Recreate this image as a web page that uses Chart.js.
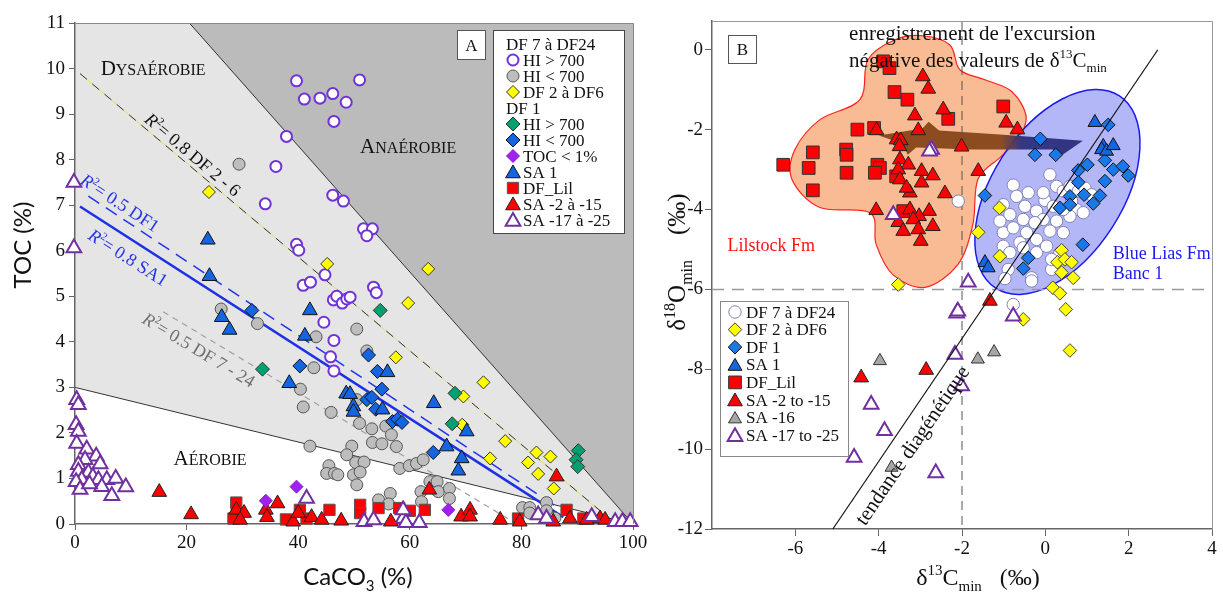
<!DOCTYPE html>
<html>
<head>
<meta charset="utf-8">
<script src="https://cdn.jsdelivr.net/npm/chart.js@4/dist/chart.umd.min.js"></script>
<style>
  html, body { margin: 0; padding: 0; background: #fff; }
  #wrap { position: relative; width: 1223px; height: 595px; }
  #left { position: absolute; left: 0; top: 0; }
  #right { position: absolute; left: 650px; top: 0; }
</style>
</head>
<body>
<div id="wrap">
  <canvas id="left" width="650" height="595"></canvas>
  <canvas id="right" width="573" height="595"></canvas>
</div>
<script>
// ---------- panel A : CaCO3 (%) vs TOC (%) ----------
const leftXTicks = [0, 20, 40, 60, 80, 100];
const leftYTicks = [0, 1, 2, 3, 4, 5, 6, 7, 8, 9, 10, 11];

const df724HiHigh = [[39.7,9.73],[51.0,9.75],[41.1,9.33],[43.9,9.35],[46.2,9.45],[48.6,9.26],[46.4,8.84],[37.9,8.51],[36.0,7.85],[34.1,7.03],[46.2,7.22],[48.1,7.09],[51.7,6.48],[53.3,6.48],[52.3,6.33],[39.7,6.14],[40.1,6.01],[44.8,5.47],[40.9,5.24],[42.2,5.31],[53.5,5.20],[54.0,5.08],[46.3,4.92],[46.9,5.0],[47.9,4.85],[48.7,4.94],[49.3,4.98],[44.6,4.43],[46.4,4.03],[45.8,3.67],[46.4,3.36]];
const df724HiLow = [[29.4,7.9],[26.2,4.72],[32.7,4.40],[43.2,4.11],[50.5,4.28],[52.3,3.80],[42.8,3.43],[40.4,2.96],[40.9,2.57],[45.9,2.45],[50.5,2.73],[51.0,2.21],[53.2,2.09],[55.7,2.15],[56.7,1.96],[53.3,1.79],[55.0,1.76],[57.6,1.70],[42.1,1.71],[49.6,1.71],[48.7,1.52],[50.3,1.35],[51.8,1.36],[45.5,1.28],[45.1,1.11],[46.5,1.11],[47.1,1.08],[49.9,1.08],[51.1,1.14],[50.5,0.86],[58.2,1.22],[59.9,1.28],[61.2,1.33],[62.4,1.41],[54.4,0.53],[56.5,0.67],[56.2,0.44],[62.0,0.71],[62.1,0.49],[63.6,0.93],[64.9,0.93],[65.1,0.71],[67.1,0.78],[67.1,0.56],[80.2,0.36],[81.5,0.36],[81.5,0.24],[84.5,0.47],[84.5,0.29],[86.0,0.13]];
const df26 = [[24.0,7.29],[45.2,5.71],[59.7,4.85],[63.3,5.60],[57.5,3.66],[73.2,3.11],[69.6,2.80],[69.4,2.18],[77.1,1.82],[74.4,1.44],[82.7,1.57],[81.2,1.35],[85.2,1.48],[83.0,1.10],[85.8,0.78]];
const df1HiHigh = [[33.6,3.40],[54.7,4.69],[68.1,2.87],[67.6,2.20],[90.2,1.61],[89.8,1.41],[90.1,1.26]];
const df1HiLow = [[31.7,4.69],[40.3,3.47],[52.6,3.71],[54.2,3.35],[55.0,2.96],[52.3,2.73],[53.2,2.78],[53.9,2.52],[56.9,2.25],[57.8,2.30],[58.6,2.23],[64.2,1.57]];
const df1LowToc = [[34.2,0.51],[39.7,0.82],[66.9,0.31]];
const sa1 = [[23.8,6.24],[24.1,5.44],[26.3,4.54],[27.7,4.26],[42.1,4.69],[41.2,4.13],[38.4,3.09],[48.6,2.86],[49.3,2.85],[49.9,2.58],[49.9,2.46],[55.1,2.51],[56.0,3.33],[64.3,2.65],[70.2,2.03],[66.6,1.70],[69.3,1.44],[68.7,1.17]];
const dfLil = [[28.9,0.47],[29.0,0.24],[37.8,0.10],[40.3,0.31],[45.6,0.31],[28.4,0.12],[41.5,0.12],[51.1,0.42],[51.1,0.24],[54.4,0.35],[58.1,0.35],[60.0,0.29],[62.7,0.31],[88.1,0.31],[79.4,0.12],[91.1,0.12]];
const saRed = [[15.1,0.70],[20.8,0.21],[28.9,0.31],[30.3,0.24],[29.6,0.09],[34.2,0.31],[34.4,0.15],[36.3,0.45],[39.1,0.05],[40.0,0.24],[42.4,0.15],[44.2,0.09],[47.7,0.07],[56.6,0.05],[63.5,0.75],[69.2,0.16],[70.8,0.31],[70.8,0.16],[76.2,0.09],[79.7,0.05],[86.3,1.04],[88.7,0.12],[85.7,0.05],[91.7,0.09],[94.1,0.12],[95.0,0.09]];
const saOpen = [[0.3,2.73],[0.6,2.62],[0.2,2.18],[0.6,2.03],[0.3,1.77],[2.1,1.64],[3.8,1.49],[1.8,1.41],[4.5,1.32],[0.6,1.30],[0.6,1.15],[2.4,1.13],[3.2,1.04],[1.2,0.97],[4.2,0.97],[5.7,0.97],[7.3,1.00],[0.2,0.93],[4.8,0.82],[9.1,0.81],[6.6,0.62],[0.9,0.76],[2.6,0.88],[41.5,0.56],[-0.2,7.5],[-0.2,6.06],[51.8,0.05],[53.5,0.09],[58.8,0.12],[59.3,0.03],[61.7,0.03],[58.8,0.31],[83.0,0.20],[84.5,0.12],[92.6,0.16],[96.8,0.05],[98.1,0.05],[99.5,0.05]];

// regression lines and oxygenation limits, in (CaCO3, TOC)
const fitDf26 = [[0.9, 9.89], [95, 0.2]];
const fitDf1 = [[2.4, 7.2], [88, 0.24]];
const fitSa1 = [[0.9, 6.97], [87.5, 0.15]];
const fitDf724 = [[15.8, 4.66], [78.5, 0.05]];
const anoxicLimit = [[20.5, 11], [100, 0]];
const oxicLimit = [[0, 3], [100, 0]];

// ---------- panel B : d13C vs d18O ----------
const rightXTicks = [-6, -4, -2, 0, 2, 4];
const rightYTicks = [-12, -10, -8, -6, -4, -2, 0];

const bDf724 = [[0.11,-3.13],[-0.77,-3.39],[-0.41,-3.58],[-0.01,-3.77],[0.27,-3.42],[0.43,-3.54],[0.59,-3.42],[0.79,-3.54],[0.95,-3.46],[1.11,-3.63],[-1.01,-3.88],[-0.49,-3.92],[-0.21,-4.04],[0.19,-3.92],[-0.05,-4.25],[0.27,-4.29],[-0.85,-4.13],[-0.53,-4.25],[-0.25,-4.33],[0.75,-4.0],[0.59,-4.17],[0.91,-4.08],[0.43,-4.58],[0.11,-4.54],[-1.01,-4.58],[-0.77,-4.46],[-0.45,-4.58],[-0.21,-4.75],[-0.61,-4.83],[-1.01,-4.92],[-0.85,-5.08],[-0.21,-5.08],[-0.53,-4.96],[-0.89,-5.5],[-0.33,-5.71],[-0.97,-5.73],[0.15,-5.5],[0.35,-5.08],[-2.09,-3.79],[-0.77,-6.38],[0.03,-4.92],[-1.09,-4.29],[-0.69,-3.67],[-0.05,-3.58],[0.63,-3.79],[0.43,-4.0],[0.15,-5.25],[-0.33,-5.79]];
const bDf26 = [[-1.10,-3.96],[-1.61,-4.57],[-1.09,-5.17],[0.39,-5.02],[0.29,-5.32],[0.47,-5.25],[0.63,-5.32],[0.39,-5.58],[0.67,-5.71],[0.18,-5.96],[0.35,-6.1],[0.49,-6.5],[-0.53,-6.75],[-3.53,-5.88],[0.59,-7.53]];
const bDf1 = [[1.51,-1.88],[-0.12,-2.23],[-0.25,-2.63],[0.25,-2.63],[1.43,-2.77],[1.63,-3.0],[1.86,-2.92],[1.99,-3.15],[1.01,-2.88],[0.79,-3.02],[0.79,-3.32],[1.43,-3.29],[0.59,-3.67],[0.93,-3.63],[1.31,-3.65],[1.15,-3.85],[0.35,-3.96],[0.59,-3.88],[-1.45,-3.65],[0.90,-4.88],[-0.41,-5.21],[-0.53,-5.48]];
const bSa1 = [[1.19,-1.82],[1.39,-2.42],[1.35,-2.5],[1.47,-2.54],[1.63,-2.4],[-1.45,-5.33],[-1.37,-5.46]];
const bDfLil = [[-3.89,-0.29],[-3.74,-0.46],[-3.62,-1.06],[-3.31,-1.25],[-1.01,-1.42],[-2.33,-1.73],[-4.51,-2.0],[-4.11,-1.96],[-5.58,-2.57],[-4.78,-2.5],[-4.77,-2.63],[-6.29,-2.88],[-5.68,-2.96],[-4.77,-3.08],[-5.58,-3.52],[-4.03,-2.88],[-3.97,-2.96],[-4.09,-3.08],[-3.58,-3.17],[-3.41,-4.04]];
const bSaRed = [[-2.94,-0.67],[-2.81,-0.98],[-2.45,-1.5],[-3.13,-1.65],[-3.05,-2.02],[-0.94,-1.83],[-0.67,-2.0],[-4.05,-2.02],[-3.57,-2.25],[-3.47,-2.27],[-3.50,-2.42],[-2.01,-2.43],[-1.61,-3.04],[-3.49,-2.75],[-3.29,-2.88],[-3.53,-3.0],[-2.97,-3.04],[-2.70,-3.15],[-3.49,-3.25],[-2.97,-3.33],[-3.25,-3.58],[-3.33,-3.46],[-2.41,-3.6],[-4.06,-4.02],[-3.25,-4.0],[-2.79,-4.04],[-3.03,-4.17],[-3.53,-4.32],[-3.17,-4.25],[-3.41,-4.54],[-3.05,-4.5],[-2.70,-4.42],[-2.99,-4.79],[-1.33,-6.29],[-4.42,-8.21],[-2.86,-8.02]];
const bSa16 = [[-3.97,-7.79],[-3.69,-10.46],[-1.62,-7.75],[-1.23,-7.57]];
const bSaOpen = [[-2.73,-2.5],[-2.78,-2.54],[-1.85,-5.82],[-2.13,-6.6],[-2.1,-6.55],[-3.65,-4.13],[-2.17,-7.63],[-2.01,-8.42],[-2.63,-10.6],[-4.18,-8.88],[-3.86,-9.54],[-4.59,-10.21],[-0.77,-6.67]];

const diagTrend = [[-5.1, -12], [2.7, 0]];
const lilstockOutline = [[-2.94,0.35],[-2.29,0.12],[-2.05,-0.5],[-1.45,-0.75],[-0.8,-1.05],[-0.46,-1.68],[-0.66,-2.25],[-1.09,-2.7],[-1.62,-3.25],[-1.74,-4.38],[-2.1,-5.38],[-2.89,-5.95],[-3.66,-5.63],[-4.06,-4.88],[-4.21,-4.08],[-5.41,-3.95],[-6.08,-3.25],[-6.01,-2.5],[-5.41,-1.75],[-4.45,-1.25],[-4.26,-0.25],[-3.61,0.25]];
const blueLiasCenter = [0.29, -3.56];
const blueLiasMajorTip = [1.77, -1.15];
const blueLiasMinorTip = [1.61, -4.44];
const shiftArrow = [[-4.0,-2.15],[-2.95,-1.97],[-2.8,-1.8],[-2.55,-2.02],[-1.0,-2.13],[0.9,-2.28],[0.25,-2.75],[0.18,-2.5],[-1.8,-2.5],[-3.1,-2.45],[-3.3,-2.63],[-3.45,-2.34]];

// ---------- helpers ----------
const SERIF = '"Liberation Serif", "DejaVu Serif", serif';
const SANS = 'Lato, "Liberation Sans", sans-serif';
const P = arr => arr.map(([x, y]) => ({ x, y }));

function toPx(chart, p) {
  return [chart.scales.x.getPixelForValue(p[0]), chart.scales.y.getPixelForValue(p[1])];
}

// parts: [text, kind]; kind '' | 'sup' | 'sub' | 'it' | 'sc'
function richText(ctx, parts, x, y, opt) {
  const size = opt.size;
  const sizeOf = k => (k === 'sup' || k === 'sub') ? Math.round(size * 0.62) : (k === 'sc' ? Math.round(size * 0.78) : size);
  const fontOf = k => (k === 'it' ? 'italic ' : '') + sizeOf(k) + 'px ' + (opt.family || SERIF);
  let w = 0;
  parts.forEach(([t, k]) => { ctx.font = fontOf(k); w += ctx.measureText(t).width; });
  let cx = opt.align === 'left' ? x : x - w / 2;
  ctx.textAlign = 'left';
  ctx.textBaseline = 'alphabetic';
  ctx.fillStyle = opt.color || '#111';
  const base = y + size * 0.33;
  parts.forEach(([t, k]) => {
    ctx.font = fontOf(k);
    const dy = k === 'sup' ? -size * 0.4 : (k === 'sub' ? size * 0.25 : 0);
    ctx.fillText(t, cx, base + dy);
    cx += ctx.measureText(t).width;
  });
}

function rotatedText(ctx, parts, x, y, angle, opt) {
  ctx.save();
  ctx.translate(x, y);
  ctx.rotate(angle);
  richText(ctx, parts, 0, 0, opt);
  ctx.restore();
}

function strokeSegment(ctx, chart, seg) {
  const a = toPx(chart, seg[0]), b = toPx(chart, seg[1]);
  ctx.beginPath(); ctx.moveTo(a[0], a[1]); ctx.lineTo(b[0], b[1]); ctx.stroke();
}

function segAngle(chart, seg) {
  const a = toPx(chart, seg[0]), b = toPx(chart, seg[1]);
  return Math.atan2(b[1] - a[1], b[0] - a[0]);
}

function marker(ctx, ds, x, y) {
  ctx.save();
  ctx.fillStyle = ds.backgroundColor;
  ctx.strokeStyle = ds.borderColor;
  ctx.lineWidth = ds.borderWidth;
  Chart.helpers.drawPoint(ctx, { pointStyle: ds.pointStyle, radius: ds.pointRadius, borderWidth: ds.borderWidth, rotation: 0 }, x, y);
  ctx.restore();
}

function smoothClosedPath(ctx, pts) {
  const n = pts.length;
  ctx.beginPath();
  ctx.moveTo(pts[0][0], pts[0][1]);
  for (let i = 0; i < n; i++) {
    const p0 = pts[(i - 1 + n) % n], p1 = pts[i], p2 = pts[(i + 1) % n], p3 = pts[(i + 2) % n];
    ctx.bezierCurveTo(p1[0] + (p2[0] - p0[0]) / 6, p1[1] + (p2[1] - p0[1]) / 6,
                      p2[0] - (p3[0] - p1[0]) / 6, p2[1] - (p3[1] - p1[1]) / 6, p2[0], p2[1]);
  }
  ctx.closePath();
}

function scatterSet(label, data, style, radius, fill, border, bw, order) {
  return { label, data: P(data), pointStyle: style, pointRadius: radius, pointHoverRadius: radius,
    backgroundColor: fill, borderColor: border, borderWidth: bw, order, clip: false };
}

function lineSet(label, seg, color, width, dash, order) {
  return { label, data: P(seg), showLine: true, borderColor: color, borderWidth: width,
    borderDash: dash, pointRadius: 0, backgroundColor: color, order, clip: false };
}

function axisOpts(min, max, tickList, tickLen, pad, size, fit) {
  return {
    type: 'linear', min, max,
    afterBuildTicks: s => { s.ticks = tickList.map(v => ({ value: v })); },
    afterFit: fit,
    grid: { drawOnChartArea: false, drawTicks: true, tickLength: tickLen, tickColor: '#666' },
    border: { display: true, color: '#666', width: 1.5 },
    ticks: { padding: pad, color: '#111', font: { family: SERIF, size }, callback: v => String(v) }
  };
}

// ---------- panel A ----------
const PURPLE = '#7033d8';
const leftSets = [
  scatterSet('HI > 700', df724HiHigh, 'circle', 5.5, '#ffffff', PURPLE, 2, 11),
  scatterSet('HI < 700', df724HiLow, 'circle', 6, '#bdbdbd', '#555555', 1, 12),
  scatterSet('DF 2 à DF6', df26, 'rectRot', 6.5, '#ffff00', '#333333', 1, 8),
  scatterSet('DF 1 HI > 700', df1HiHigh, 'rectRot', 7, '#00a070', '#333333', 1, 7),
  scatterSet('DF 1 HI < 700', df1HiLow, 'rectRot', 7, '#1565e0', '#111111', 1, 6),
  scatterSet('TOC < 1%', df1LowToc, 'rectRot', 6.5, '#a020f0', '#8a1ad0', 1, 5),
  scatterSet('SA 1', sa1, 'triangle', 8.5, '#1565e0', '#111111', 1, 4),
  scatterSet('DF_Lil', dfLil, 'rect', 8, '#ff0000', '#555555', 1, 10),
  scatterSet('SA -2 à -15', saRed, 'triangle', 8.5, '#ff0000', '#222222', 1, 9),
  scatterSet('SA -17 à -25', saOpen, 'triangle', 8.5, '#ffffff', '#7030a0', 2, 3),
  lineSet('fit DF 2-6 (jaune)', fitDf26, '#e6df70', 1, [], 31),
  lineSet('R² = 0.8 DF 2 - 6', fitDf26, '#333333', 1, [9, 7], 30),
  lineSet('R² = 0.5 DF1', fitDf1, '#2233ee', 1.5, [13, 8], 30),
  lineSet('R² = 0.8 SA1', fitSa1, '#1c30e6', 2.5, [], 30),
  lineSet('R² = 0.5 DF 7 - 24', fitDf724, '#a0a0a0', 1.2, [6, 5], 30)
];

const leftLegendRows = [
  { text: 'DF 7 à DF24' }, { text: 'HI > 700', ds: 0 }, { text: 'HI < 700', ds: 1 }, { text: 'DF 2 à DF6', ds: 2 },
  { text: 'DF 1' }, { text: 'HI > 700', ds: 3 }, { text: 'HI < 700', ds: 4 }, { text: 'TOC < 1%', ds: 5 },
  { text: 'SA 1', ds: 6 }, { text: 'DF_Lil', ds: 7 }, { text: 'SA -2 à -15', ds: 8 }, { text: 'SA -17 à -25', ds: 9 }
];

const leftDecor = {
  id: 'leftDecor',
  beforeDraw(chart) {
    const ctx = chart.ctx, a = chart.chartArea;
    ctx.save();
    ctx.fillStyle = '#e5e5e5';
    ctx.fillRect(a.left, a.top, a.right - a.left, a.bottom - a.top);
    // oxic field (white) below the lower limit
    const o1 = toPx(chart, oxicLimit[0]), o2 = toPx(chart, oxicLimit[1]);
    ctx.fillStyle = '#ffffff';
    ctx.beginPath(); ctx.moveTo(o1[0], o1[1]); ctx.lineTo(o2[0], o2[1]); ctx.lineTo(a.left, a.bottom); ctx.closePath(); ctx.fill();
    // anoxic field (dark) above the upper limit
    const n1 = toPx(chart, anoxicLimit[0]), n2 = toPx(chart, anoxicLimit[1]);
    ctx.fillStyle = '#bbbbbb';
    ctx.beginPath(); ctx.moveTo(n1[0], n1[1]); ctx.lineTo(a.right, a.top); ctx.lineTo(n2[0], n2[1]); ctx.closePath(); ctx.fill();
    ctx.strokeStyle = '#333'; ctx.lineWidth = 1;
    strokeSegment(ctx, chart, oxicLimit);
    strokeSegment(ctx, chart, anoxicLimit);
    ctx.restore();
  },
  beforeDatasetsDraw(chart) {
    const ctx = chart.ctx;
    ctx.save();
    // field names (small caps)
    let p = toPx(chart, [14.0, 10.0]);
    richText(ctx, [['D', ''], ['YSAÉROBIE', 'sc']], p[0], p[1], { size: 21, color: '#111' });
    p = toPx(chart, [59.7, 8.29]);
    richText(ctx, [['A', ''], ['NAÉROBIE', 'sc']], p[0], p[1], { size: 21, color: '#111' });
    p = toPx(chart, [24.2, 1.45]);
    richText(ctx, [['A', ''], ['ÉROBIE', 'sc']], p[0], p[1], { size: 21, color: '#111' });
    // regression labels
    p = toPx(chart, [21.1, 8.11]);
    rotatedText(ctx, [['R', 'it'], ['2', 'sup'], ['= 0.8 DF 2 - 6', '']], p[0], p[1], segAngle(chart, fitDf26), { size: 18, color: '#111' });
    p = toPx(chart, [8.06, 7.05]);
    rotatedText(ctx, [['R', 'it'], ['2', 'sup'], ['= 0.5 DF1', '']], p[0], p[1], segAngle(chart, fitDf1), { size: 18, color: '#2233ee' });
    p = toPx(chart, [9.5, 5.85]);
    rotatedText(ctx, [['R', 'it'], ['2', 'sup'], ['= 0.8 SA1', '']], p[0], p[1], segAngle(chart, fitSa1), { size: 18, color: '#2233ee' });
    p = toPx(chart, [22.2, 3.82]);
    rotatedText(ctx, [['R', 'it'], ['2', 'sup'], ['= 0.5 DF 7 - 24', '']], p[0], p[1], segAngle(chart, fitDf724), { size: 18, color: '#707070' });
    ctx.restore();
  },
  afterDraw(chart) {
    const ctx = chart.ctx, a = chart.chartArea;
    ctx.save();
    ctx.strokeStyle = '#888'; ctx.lineWidth = 1;
    ctx.beginPath(); ctx.moveTo(a.left, a.top + 0.5); ctx.lineTo(a.right + 0.5, a.top + 0.5); ctx.lineTo(a.right + 0.5, a.bottom); ctx.stroke();
    // panel letter
    ctx.fillStyle = '#fff'; ctx.strokeStyle = '#555';
    ctx.fillRect(457.5, 30.5, 28, 29); ctx.strokeRect(457.5, 30.5, 28, 29);
    richText(ctx, [['A', '']], 471.5, 45, { size: 17 });
    // legend
    ctx.fillStyle = '#fff'; ctx.strokeStyle = '#444';
    ctx.fillRect(493.5, 30.5, 131, 203); ctx.strokeRect(493.5, 30.5, 131, 203);
    leftLegendRows.forEach((row, i) => {
      const y = 44 + i * 16;
      if (row.ds === undefined) {
        richText(ctx, [[row.text, '']], 506, y, { size: 17, align: 'left' });
      } else {
        const ds = chart.data.datasets[row.ds];
        marker(ctx, ds, 513, y + (ds.pointStyle === 'triangle' ? 1.5 : 0));
        richText(ctx, [[row.text, '']], 523, y, { size: 17, align: 'left' });
      }
    });
    // axis titles
    richText(ctx, [['CaCO', ''], ['3', 'sub'], [' (%)', '']], 358, 577, { size: 24, family: SANS });
    rotatedText(ctx, [['TOC (%)', '']], 23, 245, -Math.PI / 2, { size: 24, family: SANS });
    ctx.restore();
  }
};

new Chart(document.getElementById('left'), {
  type: 'scatter',
  data: { datasets: leftSets },
  options: {
    responsive: false,
    animation: false,
    layout: { padding: { top: 23, right: 17, left: 0, bottom: 0 } },
    plugins: { legend: { display: false }, tooltip: { enabled: false } },
    scales: {
      x: axisOpts(0, 100, leftXTicks, 6, 2, 19, s => { s.height = 71; }),
      y: axisOpts(0, 11, leftYTicks, 6, 4, 19, s => { s.width = 75; })
    }
  },
  plugins: [leftDecor]
});

// ---------- panel B ----------
const rightSets = [
  scatterSet('DF 7 à DF24', bDf724, 'circle', 6.2, '#ffffff', '#8080bb', 1, 12),
  scatterSet('DF 2 à DF6', bDf26, 'rectRot', 6.8, '#ffff00', '#444444', 1, 11),
  scatterSet('DF 1', bDf1, 'rectRot', 6.8, '#1a78e8', '#111111', 1, 10),
  scatterSet('SA 1', bSa1, 'triangle', 8, '#1565e0', '#111111', 1, 9),
  scatterSet('DF_Lil', bDfLil, 'rect', 9, '#ff0000', '#333333', 1, 8),
  scatterSet('SA -2 to -15', bSaRed, 'triangle', 8.5, '#ff0000', '#222222', 1, 7),
  scatterSet('SA -16', bSa16, 'triangle', 7.5, '#a6a6a6', '#333333', 1, 6),
  scatterSet('SA -17 to -25', bSaOpen, 'triangle', 8.5, '#ffffff', '#7030a0', 2, 5)
];

const rightDecor = {
  id: 'rightDecor',
  beforeDatasetsDraw(chart) {
    const ctx = chart.ctx, a = chart.chartArea, xs = chart.scales.x, ys = chart.scales.y;
    ctx.save();
    // Lilstock field
    smoothClosedPath(ctx, lilstockOutline.map(p => toPx(chart, p)));
    ctx.fillStyle = '#f8bb93'; ctx.fill();
    ctx.strokeStyle = '#ff2020'; ctx.lineWidth = 1.2; ctx.stroke();
    // Blue Lias field
    const c = toPx(chart, blueLiasCenter), m = toPx(chart, blueLiasMajorTip), n = toPx(chart, blueLiasMinorTip);
    const ra = Math.hypot(m[0] - c[0], m[1] - c[1]), rb = Math.hypot(n[0] - c[0], n[1] - c[1]);
    ctx.beginPath();
    ctx.ellipse(c[0], c[1], ra, rb, Math.atan2(m[1] - c[1], m[0] - c[0]), 0, Math.PI * 2);
    ctx.fillStyle = 'rgba(150,155,245,0.72)'; ctx.fill();
    ctx.strokeStyle = '#1a1af0'; ctx.lineWidth = 1.5; ctx.stroke();
    // excursion arrow
    const ap = shiftArrow.map(p => toPx(chart, p));
    const g = ctx.createLinearGradient(ap[0][0], 0, ap[5][0], 0);
    g.addColorStop(0, 'rgba(135,70,25,0.95)');
    g.addColorStop(0.6, 'rgba(135,70,25,0.95)');
    g.addColorStop(0.7, 'rgba(45,48,125,0.95)');
    g.addColorStop(1, 'rgba(40,45,125,0.95)');
    ctx.beginPath();
    ap.forEach((p, i) => i ? ctx.lineTo(p[0], p[1]) : ctx.moveTo(p[0], p[1]));
    ctx.closePath();
    ctx.fillStyle = g; ctx.fill();
    // -2 and -6 reference lines
    ctx.setLineDash([9, 6]); ctx.strokeStyle = '#555'; ctx.lineWidth = 1;
    const vx = xs.getPixelForValue(-2);
    ctx.beginPath(); ctx.moveTo(vx, a.top); ctx.lineTo(vx, a.bottom); ctx.stroke();
    ctx.setLineDash([12, 8]); ctx.strokeStyle = '#9a9a9a'; ctx.lineWidth = 1.5;
    const hy = ys.getPixelForValue(-6);
    ctx.beginPath(); ctx.moveTo(a.left, hy); ctx.lineTo(a.right, hy); ctx.stroke();
    ctx.restore();
  },
  afterDatasetsDraw(chart) {
    const ctx = chart.ctx;
    ctx.save();
    ctx.strokeStyle = '#111'; ctx.lineWidth = 1.2;
    strokeSegment(ctx, chart, diagTrend);
    let p = toPx(chart, [-3.2, -9.9]);
    rotatedText(ctx, [['tendance diagénétique', '']], p[0], p[1], segAngle(chart, diagTrend), { size: 21, color: '#111' });
    p = toPx(chart, [-4.71, 0.42]);
    richText(ctx, [["enregistrement de l'excursion", '']], p[0], p[1], { size: 21, align: 'left', color: '#111' });
    p = toPx(chart, [-4.71, -0.25]);
    richText(ctx, [['négative des valeurs de δ', ''], ['13', 'sup'], ['C', ''], ['min', 'sub']], p[0], p[1], { size: 21, align: 'left', color: '#111' });
    p = toPx(chart, [-6.58, -4.9]);
    richText(ctx, [['Lilstock Fm', '']], p[0], p[1], { size: 18, color: '#ff1010' });
    p = toPx(chart, [1.62, -5.08]);
    richText(ctx, [['Blue Lias Fm', '']], p[0], p[1], { size: 18, align: 'left', color: '#1a1af0' });
    p = toPx(chart, [1.62, -5.6]);
    richText(ctx, [['Banc 1', '']], p[0], p[1], { size: 18, align: 'left', color: '#1a1af0' });
    ctx.restore();
  },
  afterDraw(chart) {
    const ctx = chart.ctx, a = chart.chartArea;
    ctx.save();
    ctx.strokeStyle = '#999'; ctx.lineWidth = 1;
    ctx.beginPath(); ctx.moveTo(a.left, a.top + 0.5); ctx.lineTo(a.right + 0.5, a.top + 0.5); ctx.lineTo(a.right + 0.5, a.bottom); ctx.stroke();
    // panel letter
    ctx.fillStyle = '#fff'; ctx.strokeStyle = '#555';
    ctx.fillRect(78.5, 35.5, 28, 28); ctx.strokeRect(78.5, 35.5, 28, 28);
    richText(ctx, [['B', '']], 92.5, 49.5, { size: 17 });
    // legend
    ctx.fillStyle = '#fff'; ctx.strokeStyle = '#888';
    ctx.fillRect(70.5, 301.5, 128, 155); ctx.strokeRect(70.5, 301.5, 128, 155);
    chart.data.datasets.forEach((ds, i) => {
      const y = 312 + i * 17.6;
      marker(ctx, ds, 85, y + (ds.pointStyle === 'triangle' ? 1.5 : 0));
      richText(ctx, [[ds.label, '']], 96, y, { size: 17, align: 'left' });
    });
    // axis titles
    richText(ctx, [['δ', ''], ['13', 'sup'], ['C', ''], ['min', 'sub'], ['   (‰)', '']], 328, 577, { size: 24 });
    rotatedText(ctx, [['δ', ''], ['18', 'sup'], ['O', ''], ['min', 'sub'], ['    (‰)', '']], 27, 262, -Math.PI / 2, { size: 25 });
    ctx.restore();
  }
};

new Chart(document.getElementById('right'), {
  type: 'scatter',
  data: { datasets: rightSets },
  options: {
    responsive: false,
    animation: false,
    layout: { padding: { top: 21, right: 11, left: 0, bottom: 0 } },
    plugins: { legend: { display: false }, tooltip: { enabled: false } },
    scales: {
      x: axisOpts(-8, 4, rightXTicks, 7, 2, 19, s => { s.height = 66; }),
      y: axisOpts(-12, 0.72, rightYTicks, 7, 2, 19, s => { s.width = 62; })
    }
  },
  plugins: [rightDecor]
});
</script>
</body>
</html>
